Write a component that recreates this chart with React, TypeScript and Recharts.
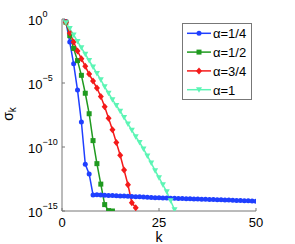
import React from 'react';
import { LineChart, Line, XAxis, YAxis, Legend } from 'recharts';

// log10(sigma_k), k = 1, 2, 3, ...
const log10SigmaQuarter = [
  -0.2, -1.8, -3.5, -5.55, -8.05, -11.35, -12.1, -13.75,
  -13.74, -13.75, -13.76, -13.78, -13.79, -13.8, -13.82, -13.83, -13.85, -13.86,
  -13.88, -13.89, -13.91, -13.92, -13.94, -13.96, -13.97,
  -13.98, -13.99, -14.0, -14.01, -14.02, -14.03, -14.04, -14.05, -14.06, -14.07,
  -14.08, -14.09, -14.1, -14.11, -14.12, -14.13, -14.14, -14.15, -14.16, -14.17,
  -14.18, -14.19, -14.2, -14.22, -14.23,
];
const log10SigmaHalf = [
  -0.25, -1.3, -2.3, -3.25, -4.4, -5.8, -7.4, -9.5, -11.3, -12.9, -14.5, -14.97, -15.0,
];
const log10SigmaThreeQuarter = [
  -0.25, -1.1, -1.8, -2.5, -3.1, -3.7, -4.3, -4.85, -5.4, -6.05, -6.85, -7.75,
  -8.65, -9.65, -10.65, -11.8, -12.95, -14.35, -14.75,
];
const log10SigmaOne = [
  -0.3, -0.75, -1.25, -1.75, -2.25, -2.75, -3.25, -3.75, -4.25, -4.75, -5.3, -5.8,
  -6.3, -6.75, -7.2, -7.7, -8.2, -8.7, -9.2, -9.65, -10.15, -10.7, -11.25, -11.85,
  -12.4, -12.95, -13.5, -14.2, -14.9,
];

const seriesKeys = ['a14', 'a12', 'a34', 'a1'];
const seriesNames = ['α=1/4', 'α=1/2', 'α=3/4', 'α=1'];
const seriesLogs = [log10SigmaQuarter, log10SigmaHalf, log10SigmaThreeQuarter, log10SigmaOne];

const xTicks = [0, 25, 50];
const yTicks = [1, 1e-5, 1e-10, 1e-15];

const seriesColors = ['#1f3fff', '#1f9a1f', '#f41a1a', '#5cf5b5'];
const seriesShapes = ['circle', 'square', 'diamond', 'triangle'];

const table = log10SigmaQuarter.map((_, i) => {
  const row: any = { k: i + 1 };
  seriesKeys.forEach((key, s) => {
    const v = seriesLogs[s][i];
    row[key] = v === undefined ? null : Math.pow(10, v);
  });
  return row;
});

const FONT = "Arial, 'Liberation Sans', Helvetica, sans-serif";
const AXIS = '#777';

function markerShape(shape: string, cx: number, cy: number, color: string, key?: any) {
  if (shape === 'circle') return <circle key={key} cx={cx} cy={cy} r={2.5} fill={color} stroke="none" />;
  if (shape === 'square') return <rect key={key} x={cx - 2.5} y={cy - 2.5} width={5} height={5} fill={color} />;
  if (shape === 'diamond')
    return (
      <polygon key={key} points={`${cx},${cy - 3.5} ${cx + 3},${cy} ${cx},${cy + 3.5} ${cx - 3},${cy}`} fill={color} />
    );
  return <polygon key={key} points={`${cx - 3},${cy - 2.5} ${cx + 3},${cy - 2.5} ${cx},${cy + 3}`} fill={color} />;
}

const makeDot = (s: number) => (props: any) => {
  const { cx, cy, index } = props;
  if (cx == null || cy == null || props.value == null) return <g key={`d${s}-${index}`} />;
  return markerShape(seriesShapes[s], cx, cy, seriesColors[s], `d${s}-${index}`);
};

const YTick = (props: any) => {
  const { x, y, payload } = props;
  const exp = Math.round(Math.log10(payload.value));
  return (
    <text x={x - 32} y={y + 5.5} textAnchor="start" fontFamily={FONT} fontSize={13} fill="#000">
      <tspan>10</tspan>
      <tspan dy={-8} fontSize={9}>{exp === 0 ? '0' : `−${-exp}`}</tspan>
    </text>
  );
};

const XTick = (props: any) => {
  const { x, y, payload } = props;
  return (
    <text x={x} y={y + 13} textAnchor="middle" fontFamily={FONT} fontSize={13} fill="#000">
      {payload.value}
    </text>
  );
};

const KLabel = (props: any) => {
  const vb = props.viewBox;
  return (
    <text x={vb.x + vb.width / 2} y={vb.y + 31} textAnchor="middle" fontFamily={FONT} fontSize={14} fill="#000">
      k
    </text>
  );
};

const SigmaLabel = (props: any) => {
  const vb = props.viewBox;
  const cx = vb.x + 1;
  const cy = vb.y + vb.height / 2 - 1;
  return (
    <text x={cx} y={cy} transform={`rotate(-90, ${cx}, ${cy})`} textAnchor="middle" fontFamily={FONT} fontSize={14} fill="#000">
      σ<tspan dy={3} fontSize={10}>k</tspan>
    </text>
  );
};

const LegendBox = () => {
  return (
    <svg width={70} height={77} style={{ display: 'block', background: '#fff' }}>
      <rect x={0.5} y={0.5} width={69} height={76} fill="#fff" stroke={AXIS} strokeWidth={1} />
      {seriesKeys.map((key, s) => {
        const y = 10.3 + s * 18.8;
        return (
          <g key={key}>
            <line x1={5} x2={29} y1={y} y2={y} stroke={seriesColors[s]} strokeWidth={1.5} />
            {markerShape(seriesShapes[s], 17, y, seriesColors[s])}
            <text x={31} y={y + 5} fontFamily={FONT} fontSize={13} fill="#000">
              {seriesNames[s]}
            </text>
          </g>
        );
      })}
    </svg>
  );
};

export default function App() {
  return (
    <div style={{ position: 'absolute', left: 0, top: 0, width: 295, height: 244, background: '#fff' }}>
      <LineChart width={295} height={244} data={table} margin={{ top: 19, right: 39, bottom: 0, left: 12 }}>
        <XAxis
          xAxisId="b"
          dataKey="k"
          type="number"
          domain={[0, 50]}
          ticks={xTicks}
          height={33}
          tickSize={-3}
          tickMargin={6}
          stroke={AXIS}
          tick={<XTick />}
          label={<KLabel />}
          allowDataOverflow
        />
        <XAxis
          xAxisId="t"
          orientation="top"
          dataKey="k"
          type="number"
          domain={[0, 50]}
          ticks={xTicks}
          height={0}
          tickSize={-3}
          tick={false}
          stroke={AXIS}
          allowDataOverflow
        />
        <YAxis
          yAxisId="l"
          type="number"
          scale="log"
          domain={[1e-15, 1]}
          ticks={yTicks}
          width={50}
          tickSize={-3}
          tickMargin={5}
          stroke={AXIS}
          tick={<YTick />}
          label={<SigmaLabel />}
          allowDataOverflow
        />
        <YAxis
          yAxisId="r"
          orientation="right"
          type="number"
          scale="log"
          domain={[1e-15, 1]}
          ticks={yTicks}
          width={0}
          tickSize={-3}
          tick={false}
          stroke={AXIS}
          allowDataOverflow
        />
        <Legend
          layout="horizontal"
          verticalAlign="middle"
          align="center"
          wrapperStyle={{ position: 'absolute', left: 182, top: 23, width: 70, height: 77 }}
          content={<LegendBox />}
        />
        {seriesKeys.map((key, s) => (
          <Line
            key={key}
            xAxisId="b"
            yAxisId="l"
            dataKey={key}
            name={seriesNames[s]}
            stroke={seriesColors[s]}
            strokeWidth={1.5}
            dot={makeDot(s)}
            activeDot={false}
            isAnimationActive={false}
            connectNulls={false}
          />
        ))}
      </LineChart>
    </div>
  );
}
